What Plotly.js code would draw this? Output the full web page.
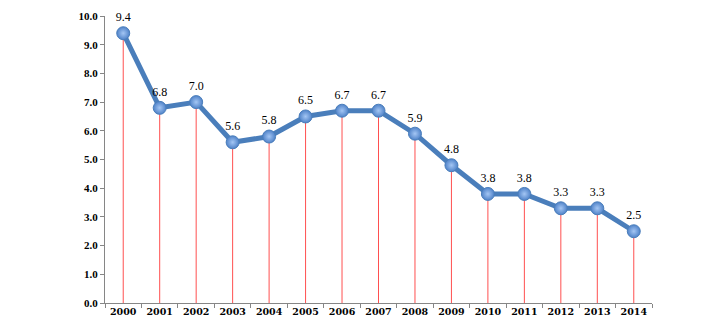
<!DOCTYPE html>
<html>
<head>
<meta charset="utf-8">
<script src="https://cdn.plot.ly/plotly-3.0.1.min.js"></script>
<style>html,body{margin:0;padding:0;background:#fff;}#chart{width:713px;height:333px;}</style>
</head>
<body>
<div id="chart"></div>
<script>
const years = ['2000','2001','2002','2003','2004','2005','2006','2007','2008','2009','2010','2011','2012','2013','2014'];
const values = [9.4, 6.8, 7.0, 5.6, 5.8, 6.5, 6.7, 6.7, 5.9, 4.8, 3.8, 3.8, 3.3, 3.3, 2.5];
const yTicks = [0,1,2,3,4,5,6,7,8,9,10];

const serif = '"Liberation Serif", "Times New Roman", serif';
const dropLines = {
  x: years, y: values, type: 'scatter', mode: 'none', hoverinfo: 'skip', showlegend: false,
  error_y: {type: 'data', symmetric: false, array: values.map(() => 0), arrayminus: values,
            color: '#ff4f4f', thickness: 1, width: 0}
};
const line = {
  x: years, y: values, type: 'scatter', mode: 'lines+markers+text',
  line: {color: '#4a7ebb', width: 5},
  marker: {size: 13, color: '#4f82c8', gradient: {type: 'radial', color: '#a4c6f4'},
           line: {color: '#4a7ebb', width: 1}},
  text: values.map(v => v.toFixed(1)), textposition: 'top center',
  textfont: {family: serif, size: 12, color: '#000'},
  cliponaxis: false, showlegend: false
};
const layout = {
  width: 713, height: 333,
  margin: {l: 105, r: 61, t: 16, b: 30},
  paper_bgcolor: '#fff', plot_bgcolor: '#fff',
  xaxis: {type: 'category', range: [-0.5, 14.5], showline: true, linecolor: '#868686', linewidth: 1,
          ticks: 'outside', ticklen: 4, tickcolor: '#868686', tickson: 'boundaries',
          showgrid: false, zeroline: false,
          tickfont: {family: '"DejaVu Serif", serif', size: 9.5, color: '#000', weight: 'bold'}},
  yaxis: {range: [0, 10], tickvals: yTicks, ticktext: yTicks.map(v => v.toFixed(1)),
          showline: true, linecolor: '#868686', linewidth: 1,
          ticks: 'outside', ticklen: 4, tickcolor: '#868686', showgrid: false, zeroline: false,
          tickfont: {family: serif, size: 11, color: '#000', weight: 'bold'}},
};
Plotly.newPlot('chart', [dropLines, line], layout, {displayModeBar: false, staticPlot: true});
</script>
</body>
</html>
